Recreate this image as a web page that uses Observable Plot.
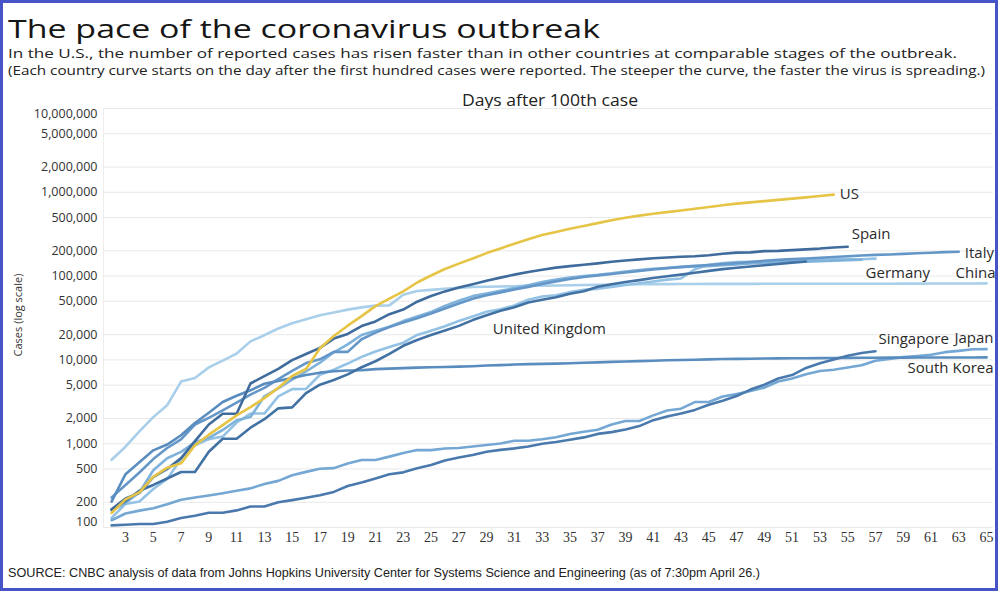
<!DOCTYPE html>
<html>
<head>
<meta charset="utf-8">
<script src="https://cdn.jsdelivr.net/npm/d3@7"></script>
<script src="https://cdn.jsdelivr.net/npm/@observablehq/plot@0.6"></script>
<style>
  html, body { margin: 0; padding: 0; background: #fff; }
  body { width: 1000px; height: 593px; position: relative; overflow: hidden; font-family: "Open Sans", Lato, sans-serif; color: #222; }
  #frame { position: absolute; left: 0; top: 0; width: 992px; height: 585px; border: 3px solid #4654c8; pointer-events: none; }
  .txt { position: absolute; white-space: nowrap; line-height: 1; transform-origin: 0 0; }
  #title { left: 8px; top: 15.8px; font-size: 25px; color: #151515; }
  #sub1 { left: 8px; top: 48px; font-size: 12.4px; color: #222; }
  #sub2 { left: 8px; top: 65px; font-size: 12.4px; color: #222; }
  #xlab { top: 91.8px; font-size: 16px; color: #222; }
  #source { left: 8px; top: 566px; font-size: 13px; font-family: "Liberation Sans Narrow", "Liberation Sans", sans-serif; color: #222; }
  #chart { position: absolute; left: 0; top: 85px; }
</style>
</head>
<body>
<div id="frame"></div>
<div class="txt" id="title">The pace of the coronavirus outbreak</div>
<div class="txt" id="sub1">In the U.S., the number of reported cases has risen faster than in other countries at comparable stages of the outbreak.</div>
<div class="txt" id="sub2">(Each country curve starts on the day after the first hundred cases were reported. The steeper the curve, the faster the virus is spreading.)</div>
<div class="txt" id="xlab">Days after 100th case</div>
<div id="chart"></div>
<div class="txt" id="source">SOURCE: CNBC analysis of data from Johns Hopkins University Center for Systems Science and Engineering (as of 7:30pm April 26.)</div>
<script>
// ---- Data (cumulative reported cases, one value per day starting at day 2 after the 100th case) ----
const countries = ["China", "France", "Germany", "Japan", "Italy", "South Korea", "Singapore", "United Kingdom", "Spain", "US"];
const seriesColors = ["#a9cfea", "#94c2e4", "#7fb2db", "#74a7d3", "#6497c8", "#5a8dbf", "#4a7aad", "#4272a4", "#3f6c9c", "#e6c446"];
const firstDay = 2;

const chinaCases = [643, 920, 1406, 2075, 2877, 5509, 6087, 8141, 9802, 11891, 16630, 19716, 23707, 27440, 30587, 34110, 36814, 39829, 42354, 44386, 44759, 59895, 66358, 68413, 70513, 72434, 74211, 74619, 75077, 75550, 77001, 77022, 77241, 77754, 78166, 78600, 78928, 79356, 79932, 80136, 80261, 80386, 80537, 80690, 80770, 80823, 80860, 80887, 80921, 80932, 80945, 80977, 81003, 81033, 81058, 81102, 81156, 81250, 81305, 81435, 81498, 81591, 81661, 81782];
const franceCases = [130, 191, 204, 288, 380, 656, 957, 1134, 1217, 1792, 2289, 2289, 3672, 4480, 4513, 6650, 7652, 9043, 10871, 12612, 14282, 16018, 19856, 22304, 25233, 29155, 32964, 37575, 40174, 44550, 52128, 56989, 59105, 64338, 68605, 70478, 74390, 78167, 82048, 86334, 90676, 93790, 120633, 136779, 143303, 147091, 147969, 149130, 149149, 152894, 155393, 155980, 158303, 159460, 158636, 161644];
const germanyCases = [159, 196, 262, 482, 670, 799, 1040, 1176, 1457, 1908, 2078, 3675, 4585, 5795, 7272, 9257, 12327, 15320, 19848, 22213, 24873, 29056, 32986, 37323, 43938, 50871, 57695, 62095, 66885, 71808, 77872, 84794, 91159, 96092, 100123, 103374, 107663, 113296, 118181, 122171, 124908, 127854, 130072, 131359, 134753, 137698, 141397, 143342, 145184, 147065, 148291, 150648, 153129, 154999, 156513];
const japanCases = [122, 147, 159, 170, 189, 214, 228, 241, 256, 274, 293, 331, 360, 420, 461, 502, 511, 581, 639, 639, 701, 773, 839, 839, 878, 889, 924, 963, 1007, 1086, 1086, 1128, 1193, 1307, 1387, 1468, 1693, 1866, 1866, 2178, 2495, 2617, 3139, 3139, 3654, 3906, 4257, 4667, 5530, 6005, 6748, 7370, 7645, 8100, 8626, 9787, 10296, 10797, 11135, 11512, 12368, 12829, 13385, 13441];
const italyCases = [229, 322, 453, 655, 888, 1128, 1694, 2036, 2502, 3089, 3858, 4636, 5883, 7375, 9172, 10149, 12462, 12462, 17660, 21157, 24747, 27980, 31506, 35713, 41035, 47021, 53578, 59138, 63927, 69176, 74386, 80589, 86498, 92472, 97689, 101739, 105792, 110574, 115242, 119827, 124632, 128948, 132547, 135586, 139422, 143626, 147577, 152271, 156363, 159516, 162488, 165155, 168941, 172434, 175925, 178972, 181228, 183957, 187327, 189973, 192994, 195351];
const koreaCases = [204, 433, 602, 833, 977, 1261, 1766, 2337, 3150, 3736, 4335, 5186, 5621, 6088, 6593, 7041, 7314, 7478, 7513, 7755, 7869, 7979, 8086, 8162, 8236, 8320, 8413, 8565, 8652, 8799, 8897, 8961, 9037, 9137, 9241, 9332, 9478, 9583, 9661, 9786, 9887, 9976, 10062, 10156, 10237, 10284, 10331, 10384, 10423, 10450, 10480, 10512, 10537, 10564, 10591, 10613, 10635, 10653, 10661, 10674, 10683, 10694, 10702, 10708];
const singaporeCases = [106, 108, 110, 110, 117, 130, 138, 150, 150, 160, 178, 178, 200, 212, 226, 243, 266, 313, 345, 385, 432, 455, 509, 558, 631, 683, 732, 802, 844, 879, 926, 1000, 1049, 1114, 1189, 1309, 1375, 1481, 1623, 1910, 2108, 2299, 2532, 2918, 3252, 3699, 4427, 5050, 5992, 6588, 8014, 9125, 10141, 11178, 12075, 12693];
const ukCases = [164, 207, 274, 322, 384, 459, 459, 802, 1144, 1145, 1551, 1960, 2642, 2716, 4014, 5067, 5745, 6726, 8164, 9640, 11812, 14745, 17312, 19780, 22453, 25481, 29865, 34173, 38689, 42477, 48436, 52279, 55949, 61474, 65872, 74605, 79874, 85206, 89570, 94845, 99483, 104145, 109769, 115314, 121172, 125856, 130172, 134638, 139246, 144640, 149569];
const spainCases = [165, 222, 259, 400, 500, 673, 1073, 1695, 2277, 2277, 5232, 6391, 7798, 9942, 11748, 13910, 17963, 20410, 25374, 28768, 35136, 39885, 49515, 57786, 65719, 73235, 80110, 87956, 95923, 104118, 112065, 119199, 126168, 131646, 136675, 141942, 148220, 153222, 158273, 163027, 166831, 170099, 172541, 177644, 184948, 190839, 191726, 198674, 200210, 204178, 208389, 213024, 219764, 223759];
const usCases = [149, 217, 262, 402, 518, 583, 959, 1281, 1663, 2179, 2727, 3499, 4632, 6421, 7783, 13747, 19273, 25600, 33276, 43843, 53736, 65778, 83836, 101657, 121465, 140909, 161831, 188172, 213242, 243622, 275367, 308650, 336802, 366317, 397121, 428654, 462780, 496535, 526396, 555313, 580619, 607670, 636350, 667592, 699706, 732197, 759086, 784326, 811865, 840351, 869170, 905358, 938154];

const seriesValues = [chinaCases, franceCases, germanyCases, japanCases, italyCases, koreaCases, singaporeCases, ukCases, spainCases, usCases];

const xTicks = [3, 5, 7, 9, 11, 13, 15, 17, 19, 21, 23, 25, 27, 29, 31, 33, 35, 37, 39, 41, 43, 45, 47, 49, 51, 53, 55, 57, 59, 61, 63, 65];
const yTicks = [100, 200, 500, 1000, 2000, 5000, 10000, 20000, 50000, 100000, 200000, 500000, 1000000, 2000000, 5000000, 10000000];

// Direct labels: which series, anchored at which day (null = last day), and text placement
const labelNames = ["US", "Spain", "Italy", "Germany", "China", "United Kingdom", "Singapore", "Japan", "South Korea"];
const labelSeries = ["US", "Spain", "Italy", "Germany", "China", "United Kingdom", "Singapore", "Japan", "South Korea"];
const labelAtDay = [null, null, null, null, null, 31, null, null, null];
const labelStyle = [
  {anchor: "start", dx: 6, dy: 0},
  {anchor: "start", dx: 4, dy: -13},
  {anchor: "start", dx: 6, dy: 1},
  {anchor: "start", dx: 4, dy: 13},
  {anchor: "end", dx: 9, dy: -10},
  {anchor: "middle", dx: 35, dy: 22},
  {anchor: "start", dx: 3, dy: -12},
  {anchor: "end", dx: 7, dy: -11},
  {anchor: "end", dx: 7, dy: 11}
];

// ---- Build tidy rows ----
const rows = [];
countries.forEach((c, k) => {
  seriesValues[k].forEach((v, i) => rows.push({country: c, day: firstDay + i, cases: v}));
});
const labelRows = labelNames.map((name, i) => {
  const s = rows.filter(r => r.country === labelSeries[i]);
  const p = labelAtDay[i] == null ? s[s.length - 1] : s.find(r => r.day === labelAtDay[i]);
  return {name, day: p.day, cases: p.cases, style: labelStyle[i]};
});

const fmt = d3.format(",");
const tickText = {frameAnchor: "left", textAnchor: "end", dx: -6, fontSize: 12.5, fontFamily: "Open Sans", fill: "#333"};
const midTicks = yTicks.slice(1, -1);
const lowTick = yTicks.slice(0, 1);
const topTick = yTicks.slice(-1);

const chart = Plot.plot({
  width: 1000,
  height: 470,
  marginLeft: 103,
  marginRight: 7,
  marginTop: 23,
  marginBottom: 28,
  style: {background: "transparent", fontFamily: "Open Sans", color: "#333", overflow: "visible"},
  x: {domain: [1.416, 65.5]},
  y: {type: "log", domain: [100, 1e7], axis: null},
  color: {domain: countries, range: seriesColors},
  marks: [
    Plot.ruleY(yTicks, {y: d => d, stroke: "#e9e9e9", strokeWidth: 1}),
    Plot.frame({anchor: "left", stroke: "#ededed"}),
    Plot.text(midTicks, {y: d => d, text: d => fmt(d), ...tickText}),
    Plot.text(lowTick, {y: d => d, text: d => fmt(d), ...tickText, dy: -6}),
    Plot.text(topTick, {y: d => d, text: d => fmt(d), ...tickText, dy: 5}),
    Plot.axisX(xTicks, {tickSize: 0, tickPadding: 5, label: null, fontSize: 14, fontFamily: "Liberation Sans Narrow", fill: "#333"}),
    Plot.text(["Cases (log scale)"], {frameAnchor: "left", textAnchor: "middle", dx: -85, dy: -3, rotate: -90, fontSize: 11, fill: "#333", fontFamily: "Open Sans"}),
    Plot.line(rows, {x: "day", y: "cases", z: "country", stroke: "country", strokeWidth: 2.6, strokeLinejoin: "round", strokeLinecap: "round"}),
    ...labelRows.map(l => Plot.text([l], {
      x: "day", y: "cases", text: "name",
      textAnchor: l.style.anchor, dx: l.style.dx, dy: l.style.dy,
      fontSize: 15, fontFamily: "Open Sans", fill: "#2a2a2a"
    }))
  ]
});
document.getElementById("chart").appendChild(chart);

// Stretch header/caption texts horizontally to the reference widths
function fit(id, width) {
  const el = document.getElementById(id);
  const w = el.getBoundingClientRect().width;
  el.style.transform = "scaleX(" + (width / w) + ")";
}
fit("title", 592);
fit("sub1", 949);
fit("sub2", 977);
fit("source", 752);
fit("xlab", 176);
document.getElementById("xlab").style.left = (550 - 176 / 2) + "px";
</script>
</body>
</html>
